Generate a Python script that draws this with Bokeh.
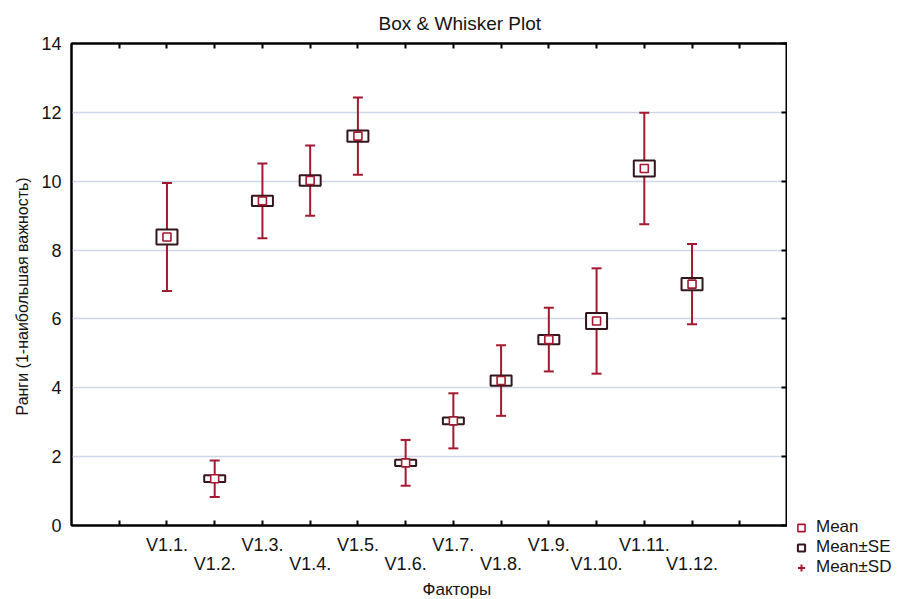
import math
from bokeh.plotting import figure
from bokeh.layouts import row, column
from bokeh.models import (Range1d, LinearAxis, FixedTicker, Grid, Legend, LegendItem,
                          Title, ColumnDataSource)
from bokeh.embed import file_html
from bokeh.resources import INLINE

# ---- data ----
categories = ["V1.1.", "V1.2.", "V1.3.", "V1.4.", "V1.5.", "V1.6.",
              "V1.7.", "V1.8.", "V1.9.", "V1.10.", "V1.11.", "V1.12."]
means = [8.38, 1.36, 9.43, 10.02, 11.31, 1.82, 3.04, 4.21, 5.40, 5.94, 10.37, 7.01]
se = [0.22, 0.10, 0.15, 0.15, 0.165, 0.09, 0.10, 0.15, 0.135, 0.23, 0.23, 0.18]
sd = [1.57, 0.53, 1.085, 1.02, 1.125, 0.665, 0.80, 1.025, 0.925, 1.53, 1.62, 1.165]
y_ticks = [0, 2, 4, 6, 8, 10, 12, 14]

title_text = "Box & Whisker Plot"
x_title = "Факторы"
y_title = "Ранги (1-наибольшая важность)"
legend_labels = ["Mean", "Mean±SE", "Mean±SD"]

pos = list(range(1, len(categories) + 1))
src = ColumnDataSource(dict(
    x=pos, mean=means, se2=[2 * s for s in se],
    lo=[m - s for m, s in zip(means, sd)],
    hi=[m + s for m, s in zip(means, sd)],
))

FONT = "Liberation Sans"
RED = "#a3192f"
DARK = "#33161c"
TXT = "#141414"
NAN = float("nan")

p = figure(width=787, height=599, output_backend="svg", toolbar_location=None,
           x_range=Range1d(-1, len(categories) + 2), y_range=Range1d(0, 14),
           x_axis_location=None, y_axis_location=None,
           min_border_left=71, min_border_right=0, min_border_top=43, min_border_bottom=74)
p.background_fill_color = "white"
p.border_fill_color = "white"
p.outline_line_color = "black"
p.outline_line_width = 2
for g in p.grid:
    g.visible = False

# title
p.title.text = title_text
p.title.align = "left"
p.title.offset = 307
p.title.text_font = FONT
p.title.text_font_size = "19px"
p.title.text_font_style = "normal"
p.title.text_color = TXT
p.title.standoff = 19

# horizontal grid
grid = Grid(dimension=1, ticker=FixedTicker(ticks=y_ticks[1:-1]),
            grid_line_color="#cdd7e8", grid_line_width=1.5)
p.add_layout(grid, "center")


def tick_only(axis, tick_in):
    axis.axis_line_width = 2
    axis.major_tick_in = tick_in
    axis.major_tick_out = 0
    axis.major_tick_line_width = 2
    axis.minor_tick_line_color = None
    axis.major_label_text_font_size = "1px"
    axis.major_label_text_color = None
    axis.major_label_standoff = 0


def labels_only(axis, standoff):
    axis.axis_line_color = None
    axis.major_tick_line_color = None
    axis.minor_tick_line_color = None
    axis.major_tick_in = 0
    axis.major_tick_out = 0
    axis.major_label_text_font = FONT
    axis.major_label_text_font_size = "18px"
    axis.major_label_text_color = TXT
    axis.major_label_standoff = standoff


# left axis
yl = LinearAxis(ticker=FixedTicker(ticks=y_ticks))
yl.axis_line_width = 2
yl.major_tick_in = 0
yl.major_tick_out = 0
yl.minor_tick_line_color = None
yl.major_label_text_font = FONT
yl.major_label_text_font_size = "18px"
yl.major_label_text_color = TXT
yl.major_label_standoff = 10
p.add_layout(yl, "left")
p.add_layout(Title(text=y_title, align="left", offset=110, text_font=FONT,
                   text_font_size="16px", text_font_style="normal", text_color=TXT,
                   standoff=16), "left")

# right axis (ticks only)
yr = LinearAxis(ticker=FixedTicker(ticks=y_ticks))
tick_only(yr, 6)
p.add_layout(yr, "right")

x_ticks = list(range(0, len(categories) + 2))

# top axis (ticks only)
xt = LinearAxis(ticker=FixedTicker(ticks=x_ticks))
tick_only(xt, 5)
p.add_layout(xt, "above")

# bottom: ticks, then two staggered rows of category labels
xb0 = LinearAxis(ticker=FixedTicker(ticks=x_ticks))
tick_only(xb0, 5)
p.add_layout(xb0, "below")

odd_pos = [pos[i] for i in range(0, len(pos), 2)]
even_pos = [pos[i] for i in range(1, len(pos), 2)]
xb1 = LinearAxis(ticker=FixedTicker(ticks=odd_pos),
                 major_label_overrides={pos[i]: categories[i] for i in range(0, len(pos), 2)})
labels_only(xb1, 9)
p.add_layout(xb1, "below")

xb2 = LinearAxis(ticker=FixedTicker(ticks=even_pos),
                 major_label_overrides={pos[i]: categories[i] for i in range(1, len(pos), 2)})
labels_only(xb2, -4)
p.add_layout(xb2, "below")

# x axis title
p.add_layout(Title(text=x_title, align="left", offset=351, text_font=FONT,
                   text_font_size="17px", text_font_style="normal", text_color=TXT,
                   standoff=2), "below")

# SD whiskers
p.segment(x0="x", y0="lo", x1="x", y1="hi", source=src, line_color=RED, line_width=2)
p.scatter(x="x", y="hi", source=src, marker="dash", size=10, line_color=RED, line_width=2)
p.scatter(x="x", y="lo", source=src, marker="dash", size=10, line_color=RED, line_width=2)
# SE boxes
p.rect(x="x", y="mean", width=21, width_units="screen", height="se2", source=src,
       fill_color="white", line_color=DARK, line_width=2)
# Mean markers
p.scatter(x="x", y="mean", source=src, marker="square", size=8,
          fill_color="white", line_color=RED, line_width=1.6)

# ---- legend panel to the right of the plot ----
lf = figure(width=115, height=599, output_backend="svg", toolbar_location=None,
            x_range=Range1d(0, 1), y_range=Range1d(0, 1),
            x_axis_location=None, y_axis_location=None,
            min_border_left=0, min_border_right=0, min_border_top=0, min_border_bottom=0)
lf.outline_line_color = None
lf.background_fill_color = "white"
lf.border_fill_color = "white"
for g in lf.grid:
    g.visible = False

leg_mean = lf.scatter(x=[NAN], y=[NAN], marker="square", size=8, fill_color="white",
                      line_color=RED, line_width=1.6)
leg_se = lf.scatter(x=[NAN], y=[NAN], marker="square", size=16, fill_color="white",
                    line_color=DARK, line_width=2)
leg_sd = lf.scatter(x=[NAN], y=[NAN], marker="cross", size=22,
                    line_color=RED, line_width=2)

legend = Legend(items=[LegendItem(label=legend_labels[0], renderers=[leg_mean]),
                       LegendItem(label=legend_labels[1], renderers=[leg_se]),
                       LegendItem(label=legend_labels[2], renderers=[leg_sd])],
                location=(5, 22), orientation="vertical",
                background_fill_alpha=0, border_line_color=None,
                label_text_font=FONT, label_text_font_size="17px", label_text_color=TXT,
                glyph_width=18, glyph_height=19, label_height=19, spacing=0,
                padding=0, margin=0, label_standoff=6)
lf.add_layout(legend, "center")

layout = row(p, column(lf))
open("out.html", "w").write(file_html(layout, INLINE))
